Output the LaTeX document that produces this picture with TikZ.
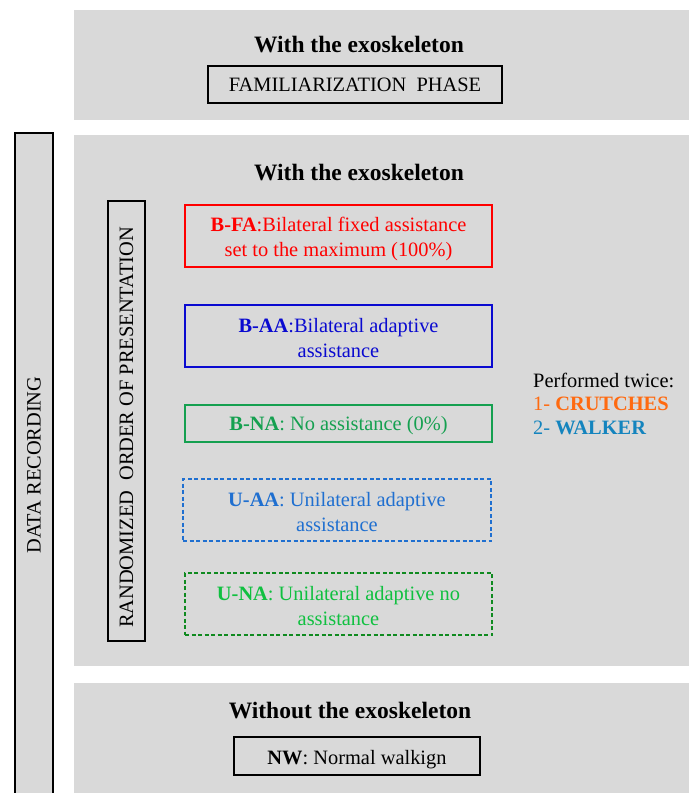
\documentclass[tikz,border=0pt]{standalone}
\usepackage{fontspec}
\setmainfont{Liberation Serif}
\definecolor{panelgray}{HTML}{D9D9D9}
\definecolor{cRed}{HTML}{FF0000}
\definecolor{cBlue}{HTML}{0A0AD0}
\definecolor{cGreen}{HTML}{15A050}
\definecolor{cUAA}{HTML}{1F6FD0}
\definecolor{cUNAtext}{HTML}{10C040}
\definecolor{cUNAline}{HTML}{108A20}
\definecolor{cOrange}{HTML}{FF6A10}
\definecolor{cWalker}{HTML}{1484BE}
\begin{document}
\begin{tikzpicture}[x=1pt,y=-1pt,
  heading/.style={font=\fontsize{23.5}{28}\selectfont\bfseries, inner sep=0pt},
  body/.style={font=\fontsize{20.4}{25}\selectfont, align=center, inner sep=0pt},
  blackbox/.style={draw=black, line width=1.3pt, fill=panelgray},
  vertbox/.style={draw=black, line width=1.8pt, fill=panelgray, body, rotate=90},
  optbox/.style={line width=1.2pt, minimum width=307pt, minimum height=62pt},
  dashbox/.style={optbox, dash pattern=on 4pt off 2.5pt},
  boxtext/.style={body, yshift=-2.5pt}
]
\useasboundingbox (0,0) rectangle (689,793);
\fill[white] (0,0) rectangle (689,793);
% panels
\fill[panelgray] (74,10) rectangle (689,120);
\fill[panelgray] (74,135) rectangle (689,666);
\fill[panelgray] (74,683) rectangle (689,793);
% data recording
\node[vertbox, minimum width=664pt, minimum height=38pt] (rec) at (34,465) {DATA RECORDING};
% top panel
\node[heading] (h1) at (359,45) {With the exoskeleton};
\node[blackbox, minimum width=294pt, minimum height=37pt] (fam) at (355,84.5) {};
\node[body] (famt) at (fam.center) {FAMILIARIZATION\ \ PHASE};
% middle panel
\node[heading] (h2) at (359,173) {With the exoskeleton};
\node[vertbox, minimum width=440pt, minimum height=37pt] (rand) at (126.5,421) {};
\node[body, rotate=90] (randt) at (126.5,427.5) {RANDOMIZED\ \ ORDER OF PRESENTATION};
\node[optbox, draw=cRed] (bfa) at (338.5,236) {};
\node[boxtext, text=cRed] (bfat) at (bfa.center) {\textbf{B-FA}:Bilateral fixed assistance\\set to the maximum (100\%)};
\node[optbox, draw=cBlue] (baa) at (338.5,336) {};
\node[boxtext, text=cBlue] (baat) at (baa.center) {\textbf{B-AA}:Bilateral adaptive\\assistance};
\node[optbox, draw=cGreen, minimum height=37pt] (bna) at (338.5,423.5) {};
\node[boxtext, text=cGreen] (bnat) at (bna.center) {\textbf{B-NA}: No assistance (0\%)};
\node[dashbox, draw=cUAA, minimum width=308pt] (uaa) at (337,510) {};
\node[boxtext, text=cUAA] (uaat) at (uaa.center) {\textbf{U-AA}: Unilateral adaptive\\assistance};
\node[dashbox, draw=cUNAline] (una) at (338.5,604) {};
\node[boxtext, text=cUNAtext] (unat) at (una.center) {\textbf{U-NA}: Unilateral adaptive no\\assistance};
\node[font=\fontsize{20.4}{23.5}\selectfont, align=left, anchor=west, inner sep=0pt] (twice) at (533,403.5)
  {Performed twice:\\\textcolor{cOrange}{1- \textbf{CRUTCHES}}\\\textcolor{cWalker}{2- \textbf{WALKER}}};
% bottom panel
\node[heading] (h3) at (350,711) {Without the exoskeleton};
\node[blackbox, minimum width=246pt, minimum height=38pt] (nw) at (357,756) {};
\node[boxtext] (nwt) at ([yshift=-1pt]nw.center) {\textbf{NW}: Normal walkign};
\end{tikzpicture}
\end{document}
